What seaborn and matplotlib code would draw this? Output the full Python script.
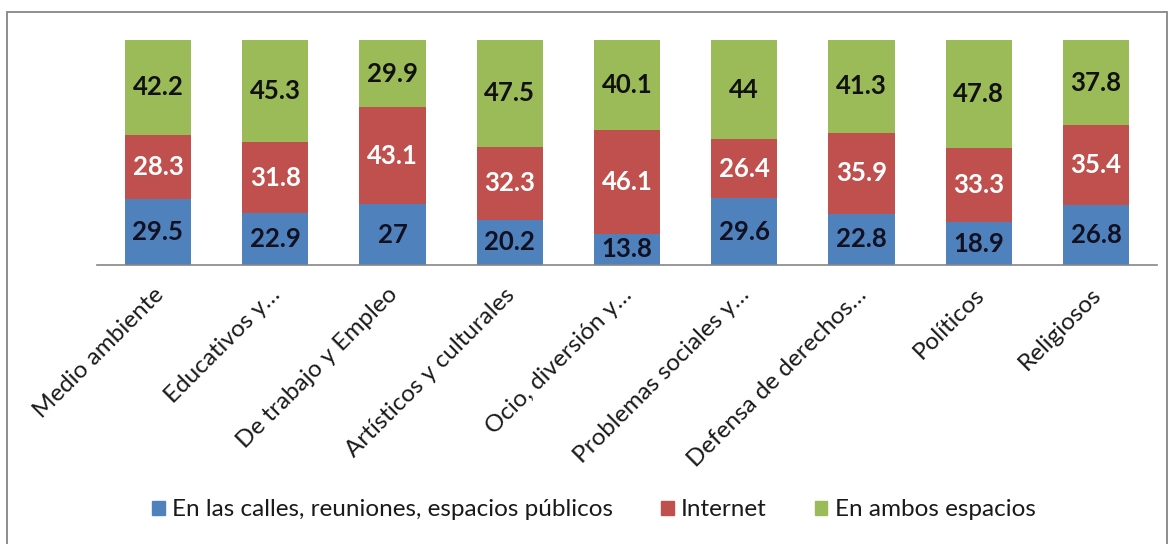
import matplotlib
matplotlib.use("Agg")
import matplotlib.pyplot as plt
import matplotlib.transforms as mtransforms
import seaborn as sns
import pandas as pd
import numpy as np

# Data
categories = [
    "Medio ambiente",
    "Educativos y…",
    "De trabajo y Empleo",
    "Artísticos y culturales",
    "Ocio, diversión y…",
    "Problemas sociales y…",
    "Defensa de derechos…",
    "Políticos",
    "Religiosos",
]
calles = [29.5, 22.9, 27, 20.2, 13.8, 29.6, 22.8, 18.9, 26.8]
internet = [28.3, 31.8, 43.1, 32.3, 46.1, 26.4, 35.9, 33.3, 35.4]
ambos = [42.2, 45.3, 29.9, 47.5, 40.1, 44, 41.3, 47.8, 37.8]

series_names = ["En las calles, reuniones, espacios públicos", "Internet", "En ambos espacios"]
colors = ["#4F81BD", "#C0504D", "#9BBB59"]
label_colors = ["#111122", "white", "#111111"]

df = pd.DataFrame({"cat": categories, "calles": calles, "internet": internet, "ambos": ambos})
df["c1"] = df["calles"]
df["c2"] = df["calles"] + df["internet"]
df["c3"] = df["c2"] + df["ambos"]

sns.set_theme(style="white")
plt.rcParams["font.family"] = ["Lato", "DejaVu Sans"]

fig = plt.figure(figsize=(11.72, 5.44), dpi=100)
ax = fig.add_axes([97 / 1172, 1 - 265 / 544, (1157 - 97) / 1172, (265 - 40) / 544])

# stacked bars: draw cumulative heights from the top segment down
for col, c in zip(["c3", "c2", "c1"], colors[::-1]):
    sns.barplot(data=df, x="cat", y=col, color=c, saturation=1, width=0.565,
                errorbar=None, ax=ax, linewidth=0)

# segment value labels
bottoms = np.zeros(len(categories))
for vals, tc in zip([calles, internet, ambos], label_colors):
    for i, v in enumerate(vals):
        ax.text(i, bottoms[i] + v / 2, f"{v:g}", ha="center", va="center",
                fontsize=18.5, fontweight="bold", color=tc)
    bottoms += np.array(vals)

ax.set_xlim(-0.52, 8.52)
ax.set_ylim(0, 100)
ax.set_xlabel("")
ax.set_ylabel("")
ax.set_yticks([])
for s in ["top", "right", "left"]:
    ax.spines[s].set_visible(False)
ax.spines["bottom"].set_color("#868686")
ax.spines["bottom"].set_linewidth(1.2)
ax.tick_params(axis="x", length=0, pad=6)
ax.set_xticks(range(len(categories)))
ax.set_xticklabels(categories, rotation=45, ha="right", va="center",
                   rotation_mode="anchor", fontsize=17.5, color="#1a1a1a")
offset = mtransforms.ScaledTranslation(2 / 100, -18 / 100, fig.dpi_scale_trans)
for lbl in ax.get_xticklabels():
    lbl.set_transform(lbl.get_transform() + offset)

# legend
handles = [plt.Rectangle((0, 0), 1, 1, color=c) for c in colors]
fig.legend(handles, series_names, loc="center", bbox_to_anchor=(594 / 1172, 1 - 510 / 544),
           ncol=3, frameon=False, fontsize=17.5, handlelength=0.5, handleheight=0.5,
           handletextpad=0.3, columnspacing=2.0, labelcolor="#1a1a1a")

# chart frame
fig.patches.append(plt.Rectangle((7 / 1172, -0.05), (1167 - 7) / 1172, 1.05 - 12 / 544,
                                 transform=fig.transFigure, fill=False,
                                 edgecolor="#868686", linewidth=1.3))

fig.savefig("out.png", dpi=100, facecolor="white")
